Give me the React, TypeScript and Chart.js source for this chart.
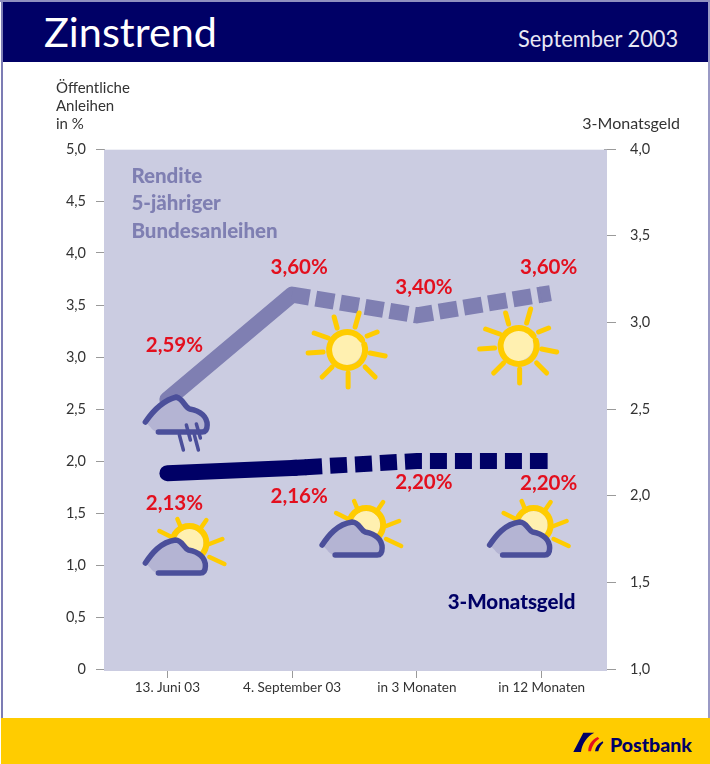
import React, { useEffect, useRef } from "react";
import { Chart, registerables } from "chart.js";

Chart.register(...registerables);

const FONT = 'Lato, "Noto Sans", sans-serif';

const categories = ["13. Juni 03", "4. September 03", "in 3 Monaten", "in 12 Monaten"];
const bondValues = [2.59, 3.6, 3.4, 3.6];
const moneyValues = [2.13, 2.16, 2.2, 2.2];
const bondLabels = ["2,59%", "3,60%", "3,40%", "3,60%"];
const moneyLabels = ["2,13%", "2,16%", "2,20%", "2,20%"];
const leftTicks = [0, 0.5, 1, 1.5, 2, 2.5, 3, 3.5, 4, 4.5, 5];
const rightTicks = [1, 1.5, 2, 2.5, 3, 3.5, 4];

const NAVY = "#000066";
const BOND = "#7f7fb2";
const PLOT = "#cbcce1";
const RED = "#e30f1e";
const YELLOW = "#ffcc00";
const OUTLINE = "#4b4f9a";
const CLOUD = "#b4b4d3";

const fmt = (v: number) => (v === 0 ? "0" : v.toFixed(1).replace(".", ","));

type P = [number, number];

function ray(ctx: CanvasRenderingContext2D, a: P, b: P, x: number, y: number) {
  ctx.beginPath();
  ctx.moveTo(x + a[0], y + a[1]);
  ctx.lineTo(x + b[0], y + b[1]);
  ctx.stroke();
}

const sunRays: [P, P][] = [
  [[-13, -33], [-10, -22]],
  [[12, -37], [8, -23]],
  [[30, -18], [20, -14]],
  [[38, 6], [23, 3]],
  [[28, 27], [18, 17]],
  [[1, 37], [1, 23]],
  [[-25, 27], [-15, 17]],
  [[-39, 3], [-24, 2]],
  [[-33, -17], [-19, -12]],
];

function drawSun(ctx: CanvasRenderingContext2D, x: number, y: number) {
  ctx.save();
  ctx.lineCap = "round";
  ctx.strokeStyle = YELLOW;
  ctx.lineWidth = 5;
  sunRays.forEach(([a, b]) => ray(ctx, a, b, x, y));
  ctx.fillStyle = "#fff0b0";
  ctx.beginPath();
  ctx.arc(x - 1, y - 1, 16, 0, Math.PI * 2);
  ctx.fill();
  ctx.lineWidth = 6;
  ctx.beginPath();
  ctx.arc(x, y, 18, -0.3, Math.PI * 2 - 0.6);
  ctx.stroke();
  ctx.restore();
}

function cloudPath(ctx: CanvasRenderingContext2D, x: number, y: number, rainy: boolean) {
  const w = rainy ? 1.03 : 1;
  ctx.moveTo(x, y);
  ctx.bezierCurveTo(x + 6 * w, y - 9, x + 15 * w, y - 21, x + 30 * w, y - (rainy ? 25 : 23));
  ctx.bezierCurveTo(x + 37 * w, y - 23, x + 38 * w, y - 15, x + 43 * w, y - 13);
  ctx.bezierCurveTo(x + 54 * w, y - 11, x + 60 * w, y - 5, x + 60 * w, y + 3);
  ctx.bezierCurveTo(x + 60 * w, y + 7, x + 59 * w, y + 10, x + 55 * w, y + 10);
}

function drawCloud(ctx: CanvasRenderingContext2D, x: number, y: number, rainy: boolean) {
  ctx.save();
  ctx.fillStyle = CLOUD;
  ctx.beginPath();
  cloudPath(ctx, x, y, rainy);
  ctx.lineTo(x + 14, y + 10);
  ctx.quadraticCurveTo(x + 8, y + 10, x + 5, y + 5);
  ctx.closePath();
  ctx.fill();
  ctx.strokeStyle = OUTLINE;
  ctx.lineCap = "round";
  ctx.lineJoin = "round";
  ctx.lineWidth = 5.5;
  ctx.beginPath();
  cloudPath(ctx, x, y, rainy);
  ctx.lineTo(x + 13, y + 10);
  ctx.stroke();
  ctx.restore();
}

function drawRain(ctx: CanvasRenderingContext2D, x: number, y: number) {
  ctx.save();
  ctx.strokeStyle = OUTLINE;
  ctx.lineCap = "round";
  ctx.lineWidth = 3.5;
  const lines: [P, P][] = [
    [[41, 3], [45, 18]],
    [[51, 2], [55, 16]],
    [[34, 13], [38, 28]],
    [[49, 13], [53, 28]],
  ];
  lines.forEach(([a, b]) => ray(ctx, a, b, x, y));
  ctx.restore();
}

const partlyRays: [P, P][] = [
  [[32, -44], [37, -32]],
  [[61, -43], [52, -30]],
  [[14, -32], [26, -26]],
  [[77, -24], [64, -19]],
  [[79, 1], [64, -6]],
];

function drawPartly(ctx: CanvasRenderingContext2D, x: number, y: number) {
  ctx.save();
  ctx.strokeStyle = YELLOW;
  ctx.lineCap = "round";
  ctx.lineWidth = 4.5;
  partlyRays.forEach(([a, b]) => ray(ctx, a, b, x, y));
  ctx.fillStyle = "#fff0b0";
  ctx.beginPath();
  ctx.arc(x + 44, y - 20, 14, 0, Math.PI * 2);
  ctx.fill();
  ctx.lineWidth = 6;
  ctx.beginPath();
  ctx.arc(x + 44, y - 20, 17, 0, Math.PI * 2);
  ctx.stroke();
  ctx.restore();
  drawCloud(ctx, x, y, false);
}

const extras = {
  id: "extras",
  beforeDatasetsDraw(chart: any) {
    const { ctx, chartArea: a } = chart;
    ctx.save();
    ctx.fillStyle = PLOT;
    ctx.fillRect(a.left - 1, a.top + 0.7, a.right - a.left + 4, a.bottom - a.top + 1.3);
    ctx.restore();
    const x = chart.scales.x;
    const c = (i: number) => x.getPixelForValue(i);
    ctx.save();
    ctx.fillStyle = BOND;
    ctx.font = `900 20.5px ${FONT}`;
    ctx.textBaseline = "middle";
    ctx.fillText("Rendite", c(0) - 36, 176);
    ctx.fillText("5-jähriger", c(0) - 36, 203);
    ctx.fillText("Bundesanleihen", c(0) - 36, 231);
    ctx.fillStyle = NAVY;
    ctx.fillText("3-Monatsgeld", c(3) - 94, 602);
    ctx.restore();
  },
  afterDatasetsDraw(chart: any) {
    const { ctx } = chart;
    const x = chart.scales.x;
    const left = chart.scales.y;
    const right = chart.scales.y2;
    const stub = (px0: number, py0: number, px1: number, py1: number, len: number, color: string) => {
      const d = Math.hypot(px1 - px0, py1 - py0);
      const ux = (px1 - px0) / d;
      const uy = (py1 - py0) / d;
      ctx.save();
      ctx.strokeStyle = color;
      ctx.lineWidth = 16;
      ctx.lineCap = "butt";
      ctx.beginPath();
      ctx.moveTo(px1 - ux, py1 - uy);
      ctx.lineTo(px1 + ux * len, py1 + uy * len);
      ctx.stroke();
      ctx.restore();
    };
    stub(x.getPixelForValue(2), left.getPixelForValue(bondValues[2]), x.getPixelForValue(3), left.getPixelForValue(bondValues[3]), 9, BOND);
    stub(x.getPixelForValue(2), right.getPixelForValue(moneyValues[2]), x.getPixelForValue(3), right.getPixelForValue(moneyValues[3]), 6, NAVY);
    // solid stretch of the short-rate line runs on into its first dash
    const mx = x.getPixelForValue(1);
    const my = right.getPixelForValue(moneyValues[1]);
    const nx = x.getPixelForValue(2);
    const ny = right.getPixelForValue(moneyValues[2]);
    stub(mx - (nx - mx), my - (ny - my), mx, my, 14, NAVY);

    const c = (i: number) => x.getPixelForValue(i);
    drawSun(ctx, c(1) + 55, 350);
    drawSun(ctx, c(3) - 23, 346);
    drawPartly(ctx, c(0) - 22, 563);
    drawPartly(ctx, c(1) + 30, 545);
    drawPartly(ctx, c(3) - 52, 545);
    drawCloud(ctx, c(0) - 22, 422, true);
    drawRain(ctx, c(0) - 22, 422);

    ctx.save();
    ctx.fillStyle = RED;
    ctx.font = `bold 20.5px ${FONT}`;
    ctx.textAlign = "center";
    ctx.textBaseline = "middle";
    const bondDy = [-54, -27, -28, -27];
    const moneyDy = [30, 28, 21, 22];
    categories.forEach((_, i) => {
      ctx.fillText(bondLabels[i], c(i) + 7, left.getPixelForValue(bondValues[i]) + bondDy[i]);
      ctx.fillText(moneyLabels[i], c(i) + 7, right.getPixelForValue(moneyValues[i]) + moneyDy[i]);
    });
    ctx.restore();
  },
};

const abs = (o: React.CSSProperties): React.CSSProperties => ({ position: "absolute", whiteSpace: "nowrap", ...o });

export default function App() {
  const ref = useRef<HTMLCanvasElement>(null);
  useEffect(() => {
    const tickFont = { family: FONT, size: 14.5 };
    const chart = new Chart(ref.current!, {
      type: "line",
      data: {
        labels: categories,
        datasets: [
          {
            label: "Rendite 5-jähriger Bundesanleihen",
            data: bondValues,
            yAxisID: "y",
            borderColor: BOND,
            borderWidth: 16,
            pointRadius: 0,
            tension: 0,
            borderCapStyle: "round",
            borderJoinStyle: "round",
            segment: {
              borderDash: (s: any) => (s.p0DataIndex === 0 ? [] : [18.6, 6.4]),
              borderDashOffset: (s: any) => (s.p0DataIndex === 0 ? 0 : 1),
              borderCapStyle: (s: any) => (s.p0DataIndex === 0 ? "round" : "butt"),
            },
          },
          {
            label: "3-Monatsgeld",
            data: moneyValues,
            yAxisID: "y2",
            borderColor: NAVY,
            borderWidth: 16,
            pointRadius: 0,
            tension: 0,
            borderCapStyle: "round",
            segment: {
              borderDash: (s: any) => (s.p0DataIndex === 0 ? [] : [17, 8]),
              borderDashOffset: (s: any) => (s.p0DataIndex === 0 ? 0 : 12),
              borderCapStyle: (s: any) => (s.p0DataIndex === 0 ? "round" : "butt"),
            },
          },
        ],
      },
      options: {
        responsive: false,
        animation: false,
        layout: { padding: { top: 149, left: 0, right: 0, bottom: 0 } },
        plugins: { legend: { display: false }, tooltip: { enabled: false } },
        scales: {
          x: {
            offset: true,
            grid: { offset: false, drawOnChartArea: false, drawTicks: true, tickLength: 9, color: "#9a9a9a", lineWidth: 1 },
            border: { display: false },
            ticks: { color: "#333333", font: { family: FONT, size: 13.5 }, maxRotation: 0, autoSkip: false, padding: 2 },
            afterFit: (s: any) => { s.height = 95; },
          },
          y: {
            position: "left",
            min: 0,
            max: 5,
            afterBuildTicks: (s: any) => { s.ticks = leftTicks.map((value) => ({ value })); },
            grid: { drawOnChartArea: false, tickLength: 9, color: "#9a9a9a" },
            border: { display: false },
            ticks: { color: "#333333", font: tickFont, padding: 10, callback: (v: any) => fmt(Number(v)) },
            afterFit: (s: any) => { s.width = 105; },
          },
          y2: {
            position: "right",
            min: 1,
            max: 4,
            afterBuildTicks: (s: any) => { s.ticks = rightTicks.map((value) => ({ value })); },
            grid: { drawOnChartArea: false, tickLength: 12, color: "#9a9a9a" },
            border: { display: false },
            ticks: { color: "#333333", font: tickFont, padding: 14, callback: (v: any) => fmt(Number(v)) },
            afterFit: (s: any) => { s.width = 106; },
          },
        },
      },
      plugins: [extras],
    } as any);
    return () => chart.destroy();
  }, []);

  return (
    <div style={{ position: "absolute", left: 0, top: 0, width: 710, height: 764, background: "#fff", overflow: "hidden", fontFamily: FONT }}>
      <canvas ref={ref} width={710} height={764} style={{ position: "absolute", left: 0, top: 0, display: "block" }} />
      <div style={abs({ left: 0, top: 0, width: 710, height: 2, background: "#8f8fbf" })} />
      <div style={abs({ left: 2, top: 2, width: 706, height: 60, background: NAVY })} />
      <div style={abs({ left: 1, top: 2, width: 1.5, height: 716, background: "#7c7cb4" })} />
      <div style={abs({ left: 708, top: 2, width: 2, height: 716, background: "#9a9ac5" })} />
      <div style={abs({ left: 44, top: 8, fontSize: 41, lineHeight: "48px", color: "#fff", transform: "scaleX(1.01)", transformOrigin: "left" })}>Zinstrend</div>
      <div style={abs({ left: 518, top: 23, fontSize: 24, lineHeight: "30px", color: "#e8e8f4", transform: "scaleX(0.91)", transformOrigin: "left" })}>September 2003</div>
      <div style={abs({ left: 56, top: 78, fontSize: 15, lineHeight: "18px", color: "#333" })}>
        Öffentliche<br />Anleihen<br />in %
      </div>
      <div style={abs({ right: 30, top: 114, fontSize: 16, lineHeight: "18px", color: "#333" })}>3-Monatsgeld</div>
      <div style={abs({ left: 1, top: 718, width: 709, height: 46, background: YELLOW })} />
      <svg width={40} height={30} style={{ position: "absolute", left: 570, top: 728 }}>
        <path d="M3.3 24 L13.3 4.7 L24.3 4.7 C17 8 12 16 11 24 Z" fill={NAVY} />
        <path d="M18.3 23.3 C18 18 21 12 27.7 9 L29.3 10.7 C25 13 22 18 21 23.3 Z" fill="#e30f1e" />
        <path d="M25 23.3 C25.5 19 28 15.5 32.7 13.3 L33.3 14.7 C31 16.5 29 20 28.3 23.3 Z" fill={NAVY} />
      </svg>
      <div style={abs({ left: 610, top: 732, fontSize: 19.5, lineHeight: "26px", fontWeight: 900, color: NAVY })}>Postbank</div>
    </div>
  );
}
